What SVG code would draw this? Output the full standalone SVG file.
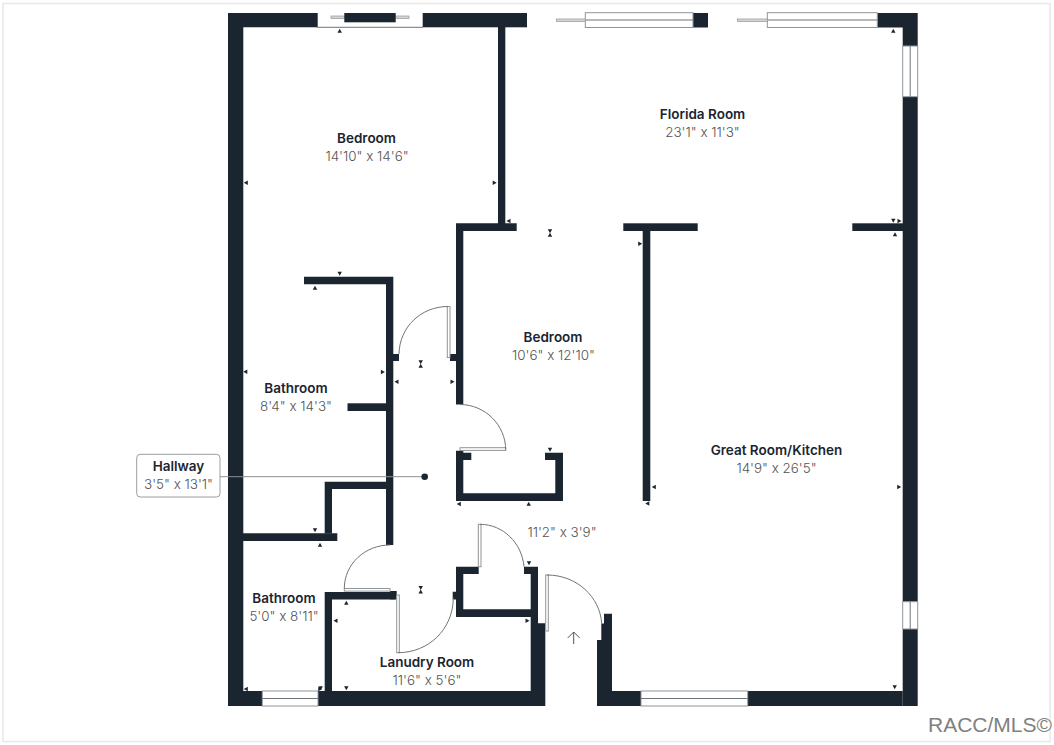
<svg xmlns="http://www.w3.org/2000/svg" width="1054" height="745" viewBox="0 0 1054 745">
<style>
.w{fill:#1a2530}
.g{fill:#fff;stroke:#8f9498;stroke-width:1}
.b{fill:#d4d6d8;stroke:#8f9498;stroke-width:.7}
.a{fill:none;stroke:#6f757a;stroke-width:1}
.n{font-family:Inter,"Open Sans",sans-serif;font-weight:600;font-size:13.5px;fill:#1a2530;text-anchor:middle}
.d{font-family:Inter,"Open Sans",sans-serif;font-weight:300;font-size:13.4px;fill:#555;text-anchor:middle}
</style>
<defs>
<path id="t" d="M0-2.2L2.2 1.8H-2.2Z" fill="#1a2530"/>
</defs>
<rect x="0" y="0" width="1054" height="745" fill="#fff"/>
<rect x="3" y="3.5" width="1047" height="738" fill="#fff" stroke="#e8e8e8" stroke-width="1.5"/>
<g id="walls">
<path class="w" d="M228 13H317.7V27.3H243.3V691H262.3V706H228Z"/>
<rect class="w" x="422.7" y="13" width="104.3" height="14.3"/>
<rect class="w" x="498" y="27" width="7.3" height="197"/>
<path class="w" d="M456 223.3H516.7V231H463.3V404.5H456Z"/>
<rect class="w" x="693" y="13" width="15" height="14.5"/>
<path class="w" d="M877.3 13H917.7V46H902.7V27.5H877.3Z"/>
<rect class="w" x="902.7" y="96.7" width="15" height="505"/>
<rect class="w" x="902.7" y="629" width="15" height="77"/>
<rect class="w" x="623.3" y="223.3" width="74.4" height="7.7"/>
<rect class="w" x="642.7" y="231" width="7.6" height="270"/>
<rect class="w" x="852.3" y="223.3" width="51" height="7.7"/>
<path class="w" d="M604 613.7H612V691H641V706H597V640H601.3V623.5H604Z"/>
<rect class="w" x="747.7" y="691" width="155" height="15"/>
<path class="w" d="M318 691H530.7V574H524V566.7H538V623.3H545.3V706H318Z"/>
<path class="w" d="M324.7 592H395.7V599.5H332V691H324.7Z"/>
<path class="w" d="M243 533.3H337.3V541H243Z"/>
<path class="w" d="M324.7 481.7H386V489H332V533.5H324.7Z"/>
<path class="w" d="M304 276.7H393.3V545H386V284.3H304Z"/>
<rect class="w" x="347.5" y="403.3" width="39" height="7.7"/>
<rect class="w" x="393" y="354" width="6" height="7"/>
<rect class="w" x="450" y="354" width="6" height="7"/>
<path class="w" d="M456 450.7H463.3V452.7H471.3V460H463.3V493.3H555.3V460H545V452.7H563V501H456Z"/>
<rect class="w" x="390" y="591" width="6.7" height="8.3"/>
<path class="w" d="M456 566.7H478.7V574H463.3V609.3H531V617H456V599.5H452.7V591.7H456Z"/>
</g>
<g id="windows">
<path class="a" d="M316.7 27.3H423" stroke="#8f9498"/>
<rect class="b" x="331" y="16" width="13.3" height="2.5"/>
<rect class="b" x="395.7" y="16" width="13.3" height="2.5"/>
<rect class="w" x="344.3" y="13" width="51.4" height="9.3"/>
<rect class="g" x="585.3" y="12.7" width="107.7" height="14.8"/>
<path class="a" d="M585.3 20H693"/>
<rect class="b" x="556.5" y="19" width="28.8" height="2.5"/>
<rect class="g" x="767.3" y="12.7" width="110" height="14.8"/>
<path class="a" d="M767.3 20H877.3"/>
<rect class="b" x="737.5" y="19" width="29.8" height="2.5"/>
<rect class="g" x="902.7" y="46" width="15" height="50.7"/>
<path class="a" d="M910.2 46V96.7"/>
<rect class="g" x="902.7" y="601.7" width="15" height="27.3"/>
<path class="a" d="M910.2 601.7V629"/>
<rect class="g" x="641" y="691" width="106.7" height="15"/>
<path class="a" d="M641 698.5H747.7"/>
<rect class="g" x="262.3" y="691" width="55.7" height="15"/>
<path class="a" d="M262.3 698.5H318"/>
</g>
<g id="doors">
<rect class="g" x="447.3" y="306.5" width="2.7" height="51"/>
<path class="a" d="M399 354C399.5 327 421 306.5 448 306.5"/>
<rect class="g" x="460" y="447.7" width="45.7" height="2.7"/>
<path class="a" d="M460 404.5C485 404.5 505.7 425 505.7 450"/>
<rect class="g" x="344.3" y="588.5" width="45.7" height="2.6"/>
<path class="a" d="M390 545C365 545 344.3 564 344.3 588.5"/>
<rect class="g" x="396.7" y="595" width="2.6" height="57.7"/>
<path class="a" d="M398 652.7C428 652.7 453 630 453.3 598"/>
<rect class="g" x="478.3" y="524.3" width="2.7" height="42.4"/>
<path class="a" d="M480 524.3C503 524.3 522 543 524 566.7"/>
<rect class="g" x="545.7" y="575" width="2.6" height="56"/>
<path class="a" d="M547 575C577 575 600 597 601.7 623.5"/>
</g>
<g id="connectors">
<path d="M220 476.7H424" fill="none" stroke="#8a8f93" stroke-width="1"/>
<circle cx="424.7" cy="476.7" r="3.3" fill="#1a2530"/>
<path d="M573.7 644V632M567.7 638L573.7 632L579.7 638" fill="none" stroke="#555" stroke-width="1"/>
</g>
<g id="ticks">
<use href="#t" transform="translate(339.7 31)"/>
<use href="#t" transform="translate(246 182.7) rotate(-90)"/>
<use href="#t" transform="translate(494.5 182.7) rotate(90)"/>
<use href="#t" transform="translate(508.7 221) rotate(-90)"/>
<use href="#t" transform="translate(893.3 31)"/>
<use href="#t" transform="translate(893.3 220.5) rotate(180)"/>
<use href="#t" transform="translate(899.3 221) rotate(90)"/>
<use href="#t" transform="translate(895 234.5)"/>
<use href="#t" transform="translate(550 231) rotate(180)"/>
<use href="#t" transform="translate(550 235)"/>
<use href="#t" transform="translate(339.7 273.5) rotate(180)"/>
<use href="#t" transform="translate(315 288)"/>
<use href="#t" transform="translate(382.7 372) rotate(90)"/>
<use href="#t" transform="translate(396.7 381.7) rotate(-90)"/>
<use href="#t" transform="translate(420.7 362) rotate(180)"/>
<use href="#t" transform="translate(420.7 366)"/>
<use href="#t" transform="translate(452.3 381.7) rotate(90)"/>
<use href="#t" transform="translate(550 449.5) rotate(180)"/>
<use href="#t" transform="translate(459 504) rotate(-90)"/>
<use href="#t" transform="translate(528.7 504)"/>
<use href="#t" transform="translate(315 530) rotate(180)"/>
<use href="#t" transform="translate(320 545)"/>
<use href="#t" transform="translate(346.3 603)"/>
<use href="#t" transform="translate(335.7 620.7) rotate(-90)"/>
<use href="#t" transform="translate(346.3 688) rotate(180)"/>
<use href="#t" transform="translate(246 689) rotate(-90)"/>
<use href="#t" transform="translate(320.7 688) rotate(180)"/>
<use href="#t" transform="translate(320 689) rotate(90)"/>
<use href="#t" transform="translate(420.7 587.7) rotate(180)"/>
<use href="#t" transform="translate(420.7 591.7)"/>
<use href="#t" transform="translate(529 563) rotate(180)"/>
<use href="#t" transform="translate(527.3 620.7) rotate(90)"/>
<use href="#t" transform="translate(894.7 687) rotate(180)"/>
<use href="#t" transform="translate(640 243.7) rotate(90)"/>
<use href="#t" transform="translate(654 487) rotate(-90)"/>
<use href="#t" transform="translate(647.5 503.5) rotate(-90)"/>
<use href="#t" transform="translate(899 487) rotate(90)"/>
<use href="#t" transform="translate(245.5 371.7) rotate(-90)"/>
</g>
<g id="room-bedroom-1"><text class="n" x="366.5" y="143">Bedroom</text><text class="d" x="367" y="161">14'10" x 14'6"</text></g>
<g id="room-florida"><text class="n" x="702.5" y="119">Florida Room</text><text class="d" x="702.5" y="137">23'1" x 11'3"</text></g>
<g id="room-bedroom-2"><text class="n" x="553" y="342">Bedroom</text><text class="d" x="553.5" y="360">10'6" x 12'10"</text></g>
<g id="room-bathroom-1"><text class="n" x="296" y="393">Bathroom</text><text class="d" x="296" y="411">8'4" x 14'3"</text></g>
<g id="room-hallway">
<rect x="136.7" y="454.3" width="83.3" height="42.7" rx="3.5" fill="#fff" stroke="#9a9ea1" stroke-width="1"/>
<text class="n" x="178.5" y="471">Hallway</text><text class="d" x="178.5" y="489">3'5" x 13'1"</text></g>
<g id="room-great"><text class="n" x="776.5" y="455">Great Room/Kitchen</text><text class="d" x="776.5" y="473">14'9" x 26'5"</text></g>
<g id="room-bathroom-2"><text class="n" x="284" y="603">Bathroom</text><text class="d" x="284" y="621">5'0" x 8'11"</text></g>
<g id="room-laundry"><text class="n" x="427" y="667">Lanudry Room</text><text class="d" x="427" y="685">11'6" x 5'6"</text></g>
<g id="room-closet"><text class="d" x="562" y="537">11'2" x 3'9"</text></g>
<text x="928" y="732" font-family="Liberation Sans, Arial, sans-serif" font-size="21" fill="#808080">RACC/MLS©</text>
</svg>
